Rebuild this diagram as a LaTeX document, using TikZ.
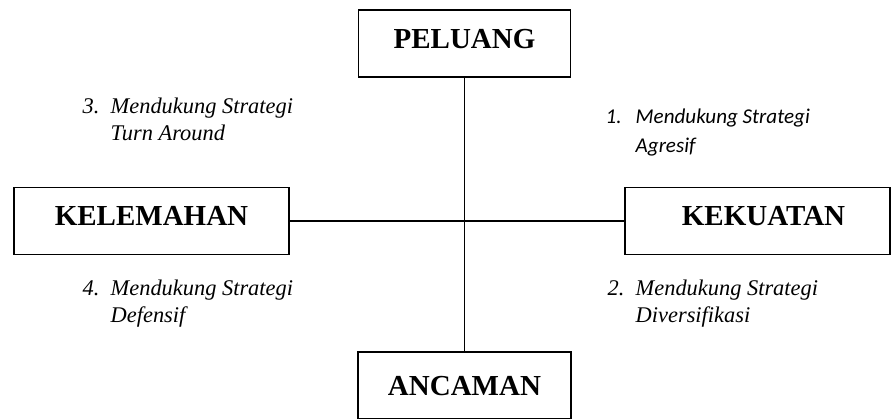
\documentclass[tikz,border=0pt]{standalone}
\usepackage{fontspec}
\setmainfont{Liberation Serif}
\newfontfamily\calibri{Carlito}
\usepackage{array}

\tikzset{every picture/.style={line width=1.1pt}}

\begin{document}
\begin{tikzpicture}[x=0.75pt,y=0.75pt,yscale=-1,xscale=1,
    kotak/.style={draw, inner sep=0pt, text height=28.5pt, text depth=21.75pt,
        font=\fontsize{21.75}{26}\selectfont\bfseries},
    strategi/.style={anchor=base west, inner sep=0pt, font=\fontsize{16.8}{20.4}\selectfont\itshape}]
            %set diagram size 891 x 418
            \useasboundingbox (0,0) rectangle (891,418);

            % Kotak faktor
            \node [kotak, minimum width=159pt] (peluang) at (464.5,43.5) {PELUANG};
            \node [kotak, minimum width=206.25pt] (kelemahan) at (151.5,221) {KELEMAHAN};
            \node [kotak, minimum width=198.75pt] (kekuatan) at (757.5,221) {\hspace{9pt}KEKUATAN};
            \node [kotak, minimum width=159.75pt, text height=32.25pt, text depth=18pt] (ancaman) at (464.5,385.5) {ANCAMAN};

            % Garis sumbu
            \draw (peluang) -- (ancaman);
            \draw (kelemahan) -- (kekuatan);

            % Text Node
            \node [strategi, font=\fontsize{15.8}{21.75}\selectfont\calibri\itshape] (agresif) at (605,123)
                {\begin{tabular}[t]{@{}p{22.5pt}@{}l@{}}1. & Mendukung Strategi\\ & Agresif\end{tabular}};
            % Text Node
            \node [strategi] (diversifikasi) at (607,295)
                {\begin{tabular}[t]{@{}p{21pt}@{}l@{}}2. & Mendukung Strategi\\ & Diversifikasi\end{tabular}};
            % Text Node
            \node [strategi] (turnaround) at (82,113)
                {\begin{tabular}[t]{@{}p{21pt}@{}l@{}}3. & Mendukung Strategi\\ & Turn Around\end{tabular}};
            % Text Node
            \node [strategi] (defensif) at (82,295)
                {\begin{tabular}[t]{@{}p{21pt}@{}l@{}}4. & Mendukung Strategi\\ & Defensif\end{tabular}};

\end{tikzpicture}
\end{document}
